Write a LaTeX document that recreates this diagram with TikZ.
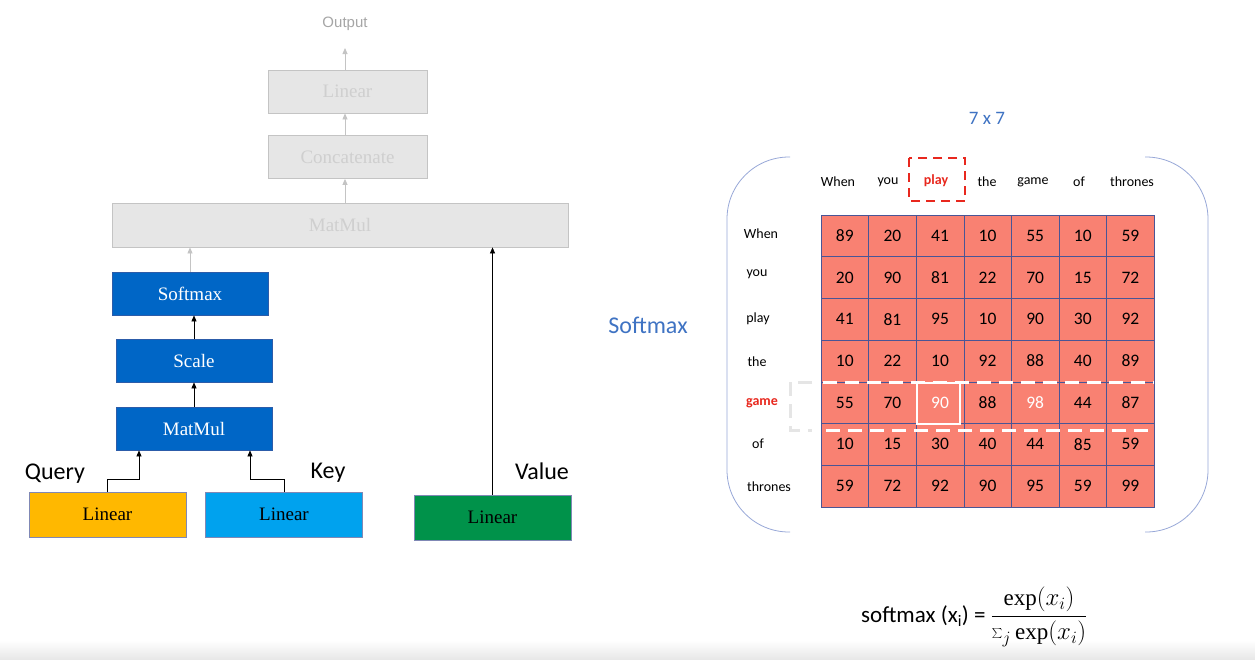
\documentclass[tikz,border=0pt]{standalone}
\usepackage{fontspec}
\setmainfont{Liberation Serif}
\newfontfamily\carl{Carlito}
\newfontfamily\helv{Liberation Sans}
\usetikzlibrary{arrows.meta}
\definecolor{dblue}{HTML}{0066C6}
\definecolor{qyel}{HTML}{FFB800}
\definecolor{kblue}{HTML}{00A2EE}
\definecolor{vgreen}{HTML}{00924A}
\definecolor{gfill}{HTML}{E6E6E6}
\definecolor{gline}{HTML}{C4C4C4}
\definecolor{gtext}{HTML}{CFCFCF}
\definecolor{salmon}{HTML}{F98172}
\definecolor{gridc}{HTML}{4A5596}
\definecolor{ttlblue}{HTML}{3F73C3}
\definecolor{brk}{HTML}{98A8D8}
\definecolor{wred}{HTML}{E8281E}
\tikzset{
  box/.style={draw=#1, line width=0.8pt, minimum height=43, inner sep=0pt, font=\fontsize{19}{22}\selectfont},
  gbox/.style={box=gline, fill=gfill, text=gtext},
  bbox/.style={box=gridc!60!dblue, fill=dblue, text=white, minimum width=156},
  lbox/.style={box=gridc!70, minimum width=157, minimum height=45},
  arr/.style={draw=black, line width=0.6pt, -{Triangle[length=6pt,width=5pt]}},
  garr/.style={draw=gline, line width=0.8pt, -{Triangle[length=6pt,width=5pt]}},
  lab/.style={font=\carl\fontsize{24}{26}\selectfont},
  cell/.style={draw=gridc, line width=0.6pt, fill=salmon, minimum width=47.6, minimum height=41.7, inner sep=0pt, font=\carl\fontsize{17.5}{19}\selectfont},
  hdr/.style={font=\carl\fontsize{14}{16}\selectfont},
}
\begin{document}
\begin{tikzpicture}[x=1pt,y=-1pt]
\useasboundingbox (0,0) rectangle (1255,659);
\fill[white] (0,0) rectangle (1255,659);
\shade[top color=white, bottom color=gray!18] (0,640) rectangle (1255,659);
% left diagram
\node[font=\helv\fontsize{15}{17}\selectfont, text=gray!70] (out) at (345,24) {Output};
\node[gbox, minimum width=159] (lin2) at (347.5,91.5) {Linear};
\node[gbox, minimum width=159] (cc) at (347.5,157) {Concatenate};
\node[gbox, minimum width=456, minimum height=44] (mm2) at (340,225) {MatMul};
\node[bbox] (sm) at (190,293.5) {Softmax};
\node[bbox] (sc) at (194,360.5) {Scale};
\node[bbox] (mm) at (194,428.5) {MatMul};
\node[lbox, fill=qyel] (ql) at (107.5,514.5) {Linear};
\node[lbox, fill=kblue] (kl) at (284,514.5) {Linear};
\node[lbox, fill=vgreen] (vl) at (492.5,517.5) {Linear};
\node[lab] (qlab) at (55,474) {Query};
\node[lab] (klab) at (328,473) {Key};
\node[lab] (vlab) at (542,471) {Value};
\draw[garr] (lin2.north -| 345,0) -- (345,48);
\draw[garr] (cc.north -| 345,0) -- (lin2.south -| 345,0);
\draw[garr] (mm2.north -| 345,0) -- (cc.south -| 345,0);
\draw[garr] (sm.north) -- (sm.north |- mm2.south);
\draw[arr] (sc.north) -- (sc.north |- sm.south);
\draw[arr] (mm.north) -- (sc.south);
\draw[arr] (ql.north) -- ++(0,-12) -| ([xshift=-55pt]mm.south);
\draw[arr] (kl.north) -- ++(0,-12) -| ([xshift=56pt]mm.south);
\draw[arr] (vl.north) -- (vl.north |- mm2.south);
% right side
\node[font=\carl\fontsize{19}{21}\selectfont, text=ttlblue] (ttl) at (987,118) {7 x 7};
\node[font=\carl\fontsize{24}{26}\selectfont, text=ttlblue] (smx) at (648,325) {Softmax};
\draw[brk, line width=0.8pt, rounded corners=62] (790,157) -- (727,157) -- (727,532) -- (790,532);
\draw[brk, line width=0.8pt, rounded corners=62] (1145,157) -- (1208,157) -- (1208,532) -- (1145,532);
% matrix
\foreach \r/\row in {1/{89,20,41,10,55,10,59},2/{20,90,81,22,70,15,72},3/{41,81,95,10,90,30,92},4/{10,22,10,92,88,40,89},5/{55,70,90,88,98,44,87},6/{10,15,30,40,44,85,59},7/{59,72,92,90,95,59,99}}{
  \foreach \v [count=\c] in \row {
    \node[cell] (c-\r-\c) at ({821+47.6*(\c-0.5)},{215+41.7*(\r-0.5)}) {\v};
  }
}
\node[cell, text=white] at (c-5-3) {90};
\node[cell, text=white] at (c-5-5) {98};
% headers
\foreach \w/\x in {When/838,you/888,the/987,game/1033,of/1079,thrones/1132}{
  \node[hdr] (h-\w) at (\x,182) {\w};
}
\node[hdr, text=wred, font=\carl\bfseries\fontsize{14}{16}\selectfont] (h-play) at (936,181) {play};
\draw[wred, line width=2.6pt, dash pattern=on 9pt off 6pt] (909,158) rectangle (965,201);
\foreach \w/\x/\y in {When/761/234,you/757/274,play/758/319,the/757/362,of/758/444,thrones/769/487}{
  \node[hdr] (r-\w) at (\x,\y) {\w};
}
\node[hdr, text=wred, font=\carl\bfseries\fontsize{14}{16}\selectfont] (r-game) at (762,403) {game};
% highlight
\draw[white, line width=2pt] (917,383) rectangle (960,424);
\draw[white, line width=3pt, dash pattern=on 14pt off 8pt] (823,382) -- (1154,382);
\draw[white, line width=3pt, dash pattern=on 14pt off 8pt] (826,430) -- (1157,430);
\draw[gray!20, line width=3pt, dash pattern=on 14pt off 8pt] (812,382) -- (790,382) -- (790,430) -- (812,430);
% formula
\node[anchor=west, inner sep=0pt] (fm) at (861,617) {\carl\fontsize{23}{25}\selectfont softmax (x\textsubscript{i}) = \(\displaystyle\frac{\exp(x_i)}{\sum_j \exp(x_i)}\)};
\end{tikzpicture}
\end{document}
